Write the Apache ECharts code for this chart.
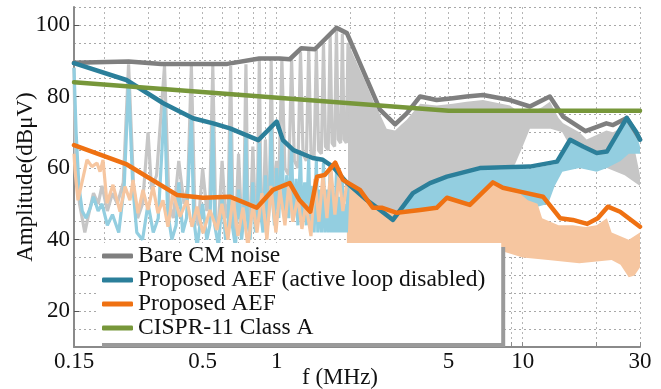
<!DOCTYPE html>
<html><head><meta charset="utf-8">
<script src="https://cdn.jsdelivr.net/npm/echarts@6/dist/echarts.min.js"></script>
<style>html,body{margin:0;padding:0;background:#fff}#c{width:661px;height:389px}</style>
</head><body><div id="c"></div><script>
// ---------- data ----------
const xTickValues = [0.2,0.3,0.4,0.5,0.6,0.7,0.8,0.9,1,2,3,4,5,6,7,8,9,10,20,30];
const xLabelValues = [0.15,0.5,1,5,10,30];
const yLabelValues = [20,40,60,80,100];
const legendNames = ['Bare CM noise','Proposed AEF (active loop disabled)','Proposed AEF','CISPR-11 Class A'];

const grayEnv = [[0.15,89.4],[0.25,89.8],[0.34,89.1],[0.63,89.1],[0.85,90.6],[1.03,90.6],[1.13,90.4],[1.26,93.5],[1.43,93.2],[1.75,99.2],[1.93,97.7],[2.63,76.3],[3.03,72.2],[3.38,75.3],[3.83,80],[4.47,79],[5.2,79.5],[5.92,80],[6.9,80.4],[8.88,79],[10.7,77.2],[12.9,80],[14.6,74.4],[18,70.3],[21.9,72.5],[23.3,72],[26.5,74],[30,68]];
const blueEnv = [[0.15,89.3],[0.245,84.6],[0.346,78.1],[0.457,73.9],[0.552,72.5],[0.646,71.1],[0.842,67.8],[1.0,73],[1.06,67.8],[1.17,65],[1.4,62.8],[1.54,62.3],[1.69,60.4],[1.93,55.9],[2.33,51],[2.63,48.3],[2.97,45.5],[3.58,53],[4.2,55.8],[4.92,57.6],[6.7,60],[10.7,60.4],[13.8,61.8],[15.6,67.9],[17.6,66],[20,64.2],[22,64.6],[26.5,74],[29,70],[30,67.9]];
const orangeEnv = [[0.15,66.4],[0.246,61],[0.393,52.5],[0.502,51.7],[0.645,52],[0.83,48.9],[0.966,53.9],[1.13,55.8],[1.24,51],[1.37,47.8],[1.46,57.6],[1.57,58.1],[1.73,61.5],[1.86,56.7],[2.18,53.9],[2.46,48.9],[2.69,48.9],[3.08,47.5],[3.83,48.3],[4.47,48.9],[4.92,51.7],[6.1,49.7],[7.57,56],[8.31,54.5],[9.75,53.4],[12.1,52],[14.2,46],[16,45.5],[18.3,44.4],[20.2,46],[22.2,49.2],[24.9,47.8],[30,43.6]];
const cisprLimit = [[0.15,84],[5,76],[30,76]];

const grayRawLow = [[0.15,88],[0.152,62],[0.158,50],[0.166,42],[0.172,47],[0.18,53],[0.188,50],[0.195,55],[0.205,48],[0.215,53],[0.225,50],[0.238,56],[0.25,89],[0.262,55],[0.272,46],[0.285,50],[0.3,70],[0.31,54],[0.325,58],[0.35,88.5],[0.365,50],[0.38,46],[0.4,62],[0.42,50],[0.435,55],[0.45,88.5],[0.465,48],[0.48,44],[0.5,60],[0.52,48],[0.535,52],[0.55,88.5],[0.565,46],[0.58,44],[0.6,62],[0.62,46],[0.635,50],[0.65,88.5],[0.665,44],[0.68,42],[0.7,64],[0.72,44],[0.735,50],[0.75,89],[0.765,44],[0.78,42],[0.8,66],[0.82,46],[0.835,50],[0.85,90],[0.865,46],[0.88,44],[0.9,68],[0.92,46],[0.935,50],[0.95,90],[0.97,50],[1.0,62],[1.02,55],[1.05,90.2],[1.08,60],[1.12,58],[1.15,90.3],[1.18,62],[1.22,60],[1.25,92.5],[1.28,64],[1.32,62],[1.35,93],[1.38,64],[1.42,63],[1.45,93],[1.48,65],[1.52,64],[1.55,95],[1.58,66],[1.62,65],[1.65,97],[1.68,67],[1.72,66],[1.75,98.5],[1.78,68],[1.82,67],[1.85,97.5],[1.88,68],[1.92,67],[1.95,95]];
const grayBandUpper = [[1.95,95],[2.1,90],[2.3,84],[2.5,78],[2.63,75],[2.8,71],[3.03,70.5],[3.2,72],[3.38,73.5],[3.83,78],[4.47,77.5],[5.2,78],[5.92,78.5],[6.9,79],[8.88,77.5],[9.5,76],[10.7,75.5],[12,77],[12.9,78.5],[14,74],[14.6,72.5],[17,70],[18.2,68],[21.9,70.5],[23.3,70],[26.5,72],[28,68],[30,58]];
const grayBandLower = [[1.95,55],[2.3,50],[2.6,46],[2.9,42],[3.1,42],[3.4,48],[4,53],[5,56],[6,58],[7,59],[8.5,60],[9.3,61],[10,66],[10.7,71],[13,71],[14.5,70],[15.6,66],[19,62],[22,60],[26,58],[30,55]];

const blueRawLow = [[0.15,88],[0.153,70],[0.157,55],[0.162,48],[0.168,46],[0.175,49],[0.18,52],[0.188,48],[0.195,50],[0.205,44],[0.215,47],[0.228,42],[0.24,55],[0.25,84],[0.26,55],[0.27,42],[0.285,40],[0.3,50],[0.315,42],[0.33,46],[0.35,78],[0.36,48],[0.375,40],[0.39,44],[0.4,56],[0.415,42],[0.43,46],[0.45,74],[0.46,46],[0.475,38],[0.5,50],[0.52,40],[0.535,44],[0.55,73],[0.56,44],[0.58,38],[0.6,52],[0.62,40],[0.635,44],[0.65,71],[0.66,44],[0.68,38],[0.7,54],[0.72,40],[0.735,46],[0.75,69.5],[0.76,46],[0.78,40],[0.8,56],[0.82,42],[0.835,48],[0.85,67],[0.86,48],[0.88,42],[0.9,58],[0.92,44],[0.935,50],[0.95,71],[0.965,50],[0.98,44],[1.0,60],[1.02,46],[1.05,67.5],[1.07,48],[1.1,58],[1.12,46],[1.15,65.5],[1.17,46],[1.2,57],[1.22,44],[1.25,64],[1.27,44],[1.3,56],[1.32,44],[1.35,62.5],[1.37,44],[1.4,55],[1.42,42],[1.45,62],[1.47,42],[1.5,54],[1.52,42],[1.55,61.5],[1.57,42],[1.6,54],[1.62,42],[1.65,60.5],[1.67,42],[1.7,53],[1.72,42],[1.75,59],[1.77,42],[1.8,52],[1.82,42],[1.85,57],[1.87,42],[1.9,50],[1.92,42],[1.95,55]];
const blueBandUpper = [[1.95,55],[2.33,50],[2.63,47.5],[2.97,45],[3.2,48],[3.58,52.5],[4.2,55.3],[4.92,57],[6.7,59.5],[10.7,59.8],[13.8,61.2],[15.6,67.3],[17.6,65.4],[20,63.6],[22,64],[26.5,73.4],[28.5,71],[30,66]];
const blueBandLower = [[1.95,40],[9,40],[10,48],[12.7,50],[13.5,55],[14.5,59],[17,60],[20,59],[22,60],[25,62],[27,64],[30,64]];

const orangeRawLow = [[0.15,64],[0.1514,59.4],[0.1557,51],[0.1694,62.3],[0.1775,60.4],[0.186,61.4],[0.1914,59],[0.1968,62.3],[0.2043,50.2],[0.2161,55.3],[0.2307,47.8],[0.2418,54.8],[0.2533,51],[0.2606,56.7],[0.273,47.4],[0.2861,53.9],[0.2998,48.3],[0.3142,54.8],[0.3292,47.4],[0.345,51],[0.3615,43.6],[0.3788,53],[0.4045,46.4],[0.4319,51],[0.4526,43.6],[0.4742,49.2],[0.5017,41.8],[0.5356,48.3],[0.5718,42.7],[0.599,50],[0.6338,40],[0.6642,52],[0.696,41],[0.7294,49],[0.7643,38],[0.8009,50],[0.8314,42],[0.8712,53],[0.913,40],[0.9478,55],[0.9932,42],[1.0309,54],[1.0805,44],[1.1215,56],[1.1644,45],[1.2202,52],[1.2666,43],[1.3151,50],[1.3783,41],[1.4306,57],[1.4852,45],[1.5419,58],[1.6008,46],[1.6618,60],[1.7251,47],[1.7909,58],[1.8593,48],[1.93,56]];
const orangeBandUpper = [[1.93,56],[2.18,53.4],[2.46,48.4],[2.69,48.4],[3.08,47],[3.83,47.8],[4.47,48.4],[4.92,51.2],[6.1,49.2],[7.57,55.5],[8.31,54],[9.75,52.9],[10.5,51],[11.5,50],[12,46],[14,44],[16,44],[18,43.5],[20,44],[22,46],[23,42],[27,40],[30,42]];
const orangeBandLower = [[1.93,38],[8,37],[9,36],[10,35],[12.7,34.3],[17,33.4],[23,34.3],[25,33],[27,29.5],[28.5,30],[30,32.3]];

// ---------- styles ----------
const C = {
  gray:'#7f7f7f', blue:'#2b7f9a', orange:'#ef7112', green:'#77973a',
  lgray:'#c6c6c6', lblue:'#93cee0', lorange:'#f6c6a0'
};
const serif = 'Liberation Serif';

function rawLine(name, data, color) {
  return {name, type:'line', data, symbol:'none', showSymbol:false, silent:true,
    lineStyle:{color, width:3.2}, itemStyle:{color}};
}
function envLine(name, data, color) {
  return {name, type:'line', data, symbol:'none', showSymbol:false, silent:true,
    lineStyle:{color, width:4.5, join:'round', cap:'round'}, itemStyle:{color}};
}
function band(name, upper, lower, color) {
  return {
    name, type:'custom', coordinateSystem:'cartesian2d', silent:true,
    data:[[1, 50]], encode:{x:0, y:1},
    renderItem: function (params, api) {
      const pts = upper.map(p => api.coord(p)).concat(lower.slice().reverse().map(p => api.coord(p)));
      return {type:'polygon', shape:{points:pts}, style:{fill:color}};
    }
  };
}

const chart = echarts.init(document.getElementById('c'), null, {renderer:'canvas'});
chart.setOption({
  animation:false,
  backgroundColor:'#fff',
  grid:{left:74, right:21, top:7, bottom:42, containLabel:false, outerBoundsMode:'none'},
  xAxis:{
    type:'log', logBase:10, min:0.15, max:30,
    name:'f (MHz)', nameLocation:'middle', nameGap:19, nameMoveOverlap:false,
    nameTextStyle:{fontFamily:serif, fontSize:23, color:'#111', padding:[0,34,0,0]},
    axisLine:{show:true, lineStyle:{color:'#8a8a8a', width:2}},
    axisTick:{show:true, inside:true, length:5, customValues:xTickValues, lineStyle:{color:'#8a8a8a', width:1}},
    axisLabel:{show:true, customValues:xLabelValues, fontFamily:serif, fontSize:23, color:'#111', margin:3,
      formatter: v => String(+(+v).toPrecision(3))},
    splitLine:{show:true, lineStyle:{color:'#b5b5b5', width:1, type:[2,3]}},
    minorTick:{show:false}, minorSplitLine:{show:false}
  },
  yAxis:[{
    type:'value', min:10, max:105,
    name:'Amplitude(dBμV)', nameLocation:'middle', nameGap:37, nameMoveOverlap:false,
    nameTextStyle:{fontFamily:serif, fontSize:23, color:'#111'},
    axisLine:{show:true, lineStyle:{color:'#8a8a8a', width:2}},
    axisTick:{show:true, inside:true, length:5, customValues:yLabelValues, lineStyle:{color:'#555', width:1}},
    axisLabel:{show:true, customValues:yLabelValues, fontFamily:serif, fontSize:23, color:'#111', margin:4},
    splitLine:{show:false}
  },{
    type:'value', min:10, max:105, interval:5,
    axisLine:{show:false}, axisTick:{show:false}, axisLabel:{show:false},
    splitLine:{show:true, lineStyle:{color:'#a8a8a8', width:1, type:[2,3]}}
  }],
  legend:{
    data:legendNames, orient:'vertical', left:98, top:243,
    itemWidth:31, itemHeight:5, itemGap:0, icon:'roundRect',
    padding:[1,16,3,4], backgroundColor:'#fff',
    shadowColor:'#9a9a9a', shadowBlur:0, shadowOffsetX:4, shadowOffsetY:4,
    textStyle:{fontFamily:serif, fontSize:23.5, color:'#111'},
    selectedMode:false
  },
  series:[
    band('grayBand', grayBandUpper, grayBandLower, C.lgray),
    rawLine('grayRaw', grayRawLow, C.lgray),
    band('blueBand', blueBandUpper, blueBandLower, C.lblue),
    rawLine('blueRaw', blueRawLow, C.lblue),
    band('orangeBand', orangeBandUpper, orangeBandLower, C.lorange),
    rawLine('orangeRaw', orangeRawLow, C.lorange),
    envLine(legendNames[0], grayEnv, C.gray),
    envLine(legendNames[1], blueEnv, C.blue),
    envLine(legendNames[2], orangeEnv, C.orange),
    envLine(legendNames[3], cisprLimit, C.green)
  ]
});
</script></body></html>
